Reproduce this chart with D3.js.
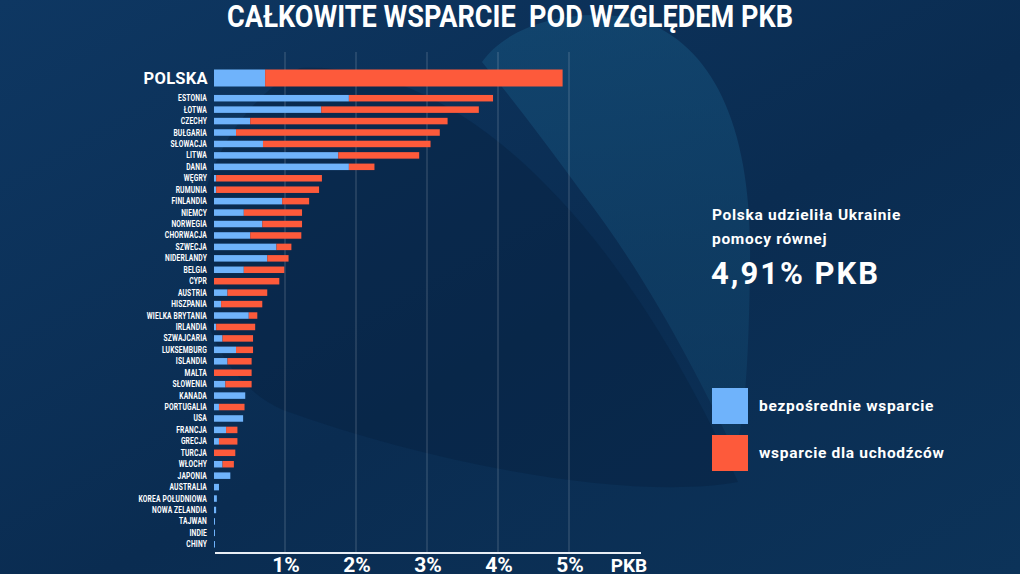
<!DOCTYPE html>
<html>
<head>
<meta charset="utf-8">
<script src="https://cdn.jsdelivr.net/npm/d3@7"></script>
<style>
  html, body { margin: 0; padding: 0; background: #0b2f55; }
  svg { display: block; }
  text { font-family: Roboto, "Noto Sans", sans-serif; font-weight: bold; fill: #ffffff; }
</style>
</head>
<body>
<div id="chart"></div>
<script>
// values, % of GDP
var countries = ["ESTONIA", "ŁOTWA", "CZECHY", "BUŁGARIA", "SŁOWACJA", "LITWA", "DANIA", "WĘGRY", "RUMUNIA",
  "FINLANDIA", "NIEMCY", "NORWEGIA", "CHORWACJA", "SZWECJA", "NIDERLANDY", "BELGIA", "CYPR", "AUSTRIA",
  "HISZPANIA", "WIELKA BRYTANIA", "IRLANDIA", "SZWAJCARIA", "LUKSEMBURG", "ISLANDIA", "MALTA", "SŁOWENIA",
  "KANADA", "PORTUGALIA", "USA", "FRANCJA", "GRECJA", "TURCJA", "WŁOCHY", "JAPONIA", "AUSTRALIA",
  "KOREA POŁUDNIOWA", "NOWA ZELANDIA", "TAJWAN", "INDIE", "CHINY"];

var direct = [1.90, 1.51, 0.51, 0.31, 0.69, 1.75, 1.90, 0.03, 0.03,
  0.96, 0.42, 0.68, 0.51, 0.88, 0.75, 0.42, 0.00, 0.19,
  0.10, 0.49, 0.03, 0.12, 0.31, 0.19, 0.00, 0.16,
  0.44, 0.07, 0.41, 0.17, 0.07, 0.00, 0.12, 0.23, 0.07,
  0.04, 0.03, 0.012, 0.012, 0.012];

var refugees = [2.03, 2.22, 2.78, 2.87, 2.36, 1.14, 0.36, 1.49, 1.45,
  0.38, 0.82, 0.56, 0.72, 0.21, 0.30, 0.57, 0.92, 0.56,
  0.58, 0.12, 0.55, 0.43, 0.24, 0.34, 0.53, 0.37,
  0.00, 0.36, 0.00, 0.16, 0.26, 0.30, 0.16, 0.00, 0.00,
  0.00, 0.00, 0.00, 0.00, 0.00];

var polandName = "POLSKA";
var polandDirect = 0.72;
var polandRefugees = 4.19;

var ticks = [1, 2, 3, 4, 5];
var tickLabels = ["1%", "2%", "3%", "4%", "5%"];
var unitLabel = "PKB";

var legendLabels = ["bezpośrednie wsparcie", "wsparcie dla uchodźców"];
var blue = "#6fb3fb", red = "#fd5a3b";

var W = 1020, H = 574;

var svg = d3.select("#chart").append("svg")
  .attr("width", W)
  .attr("height", H);

// background
var defs = svg.append("defs");
var bg = defs.append("linearGradient").attr("id", "bg")
  .attr("x1", 0).attr("y1", 0).attr("x2", 1).attr("y2", 1);
bg.append("stop").attr("offset", "0%").attr("stop-color", "#0e3762");
bg.append("stop").attr("offset", "55%").attr("stop-color", "#0a2c51");
bg.append("stop").attr("offset", "100%").attr("stop-color", "#0c3359");

var leafGrad = defs.append("linearGradient").attr("id", "leaf")
  .attr("x1", 0).attr("y1", 0).attr("x2", 0).attr("y2", 1);
leafGrad.append("stop").attr("offset", "0%").attr("stop-color", "#15507a");
leafGrad.append("stop").attr("offset", "100%").attr("stop-color", "#0f3d63");

svg.append("rect").attr("width", W).attr("height", H).attr("fill", "url(#bg)");

// dark wedge and light leaf shapes
svg.append("path")
  .attr("d", "M 300 68 C 460 60 620 220 738 482 C 640 500 450 470 283 410 C 170 360 160 150 300 68 Z")
  .attr("fill", "#072240").attr("opacity", 0.45);
svg.append("path")
  .attr("d", "M 482 62 C 510 22 580 6 640 20 C 715 45 752 130 750 260 C 749 360 745 420 735 452 C 700 380 650 280 580 190 C 540 135 505 90 482 62 Z")
  .attr("fill", "url(#leaf)").attr("opacity", 0.6);

// title
svg.append("text")
  .attr("x", 510)
  .attr("y", 27)
  .attr("text-anchor", "middle")
  .attr("textLength", 566)
  .attr("lengthAdjust", "spacingAndGlyphs")
  .style("white-space", "pre")
  .style("font-size", "31px")
  .text("CAŁKOWITE WSPARCIE  POD WZGLĘDEM PKB");

// scales
var x = d3.scaleLinear().domain([0, 6]).range([214, 640]);
var y = d3.scalePoint().domain(countries).range([98.2, 544.3]);
var barH = 6.5;

// grid lines
svg.append("g")
  .selectAll("line")
  .data(ticks)
  .enter()
  .append("line")
  .attr("x1", function (d) { return x(d); })
  .attr("x2", function (d) { return x(d); })
  .attr("y1", 52)
  .attr("y2", 553)
  .attr("stroke", "#ffffff")
  .attr("stroke-opacity", 0.22)
  .attr("stroke-width", 1);

// Poland bar
var polY = 78;
svg.append("rect")
  .attr("x", x(0)).attr("y", polY - 8.5)
  .attr("width", x(polandDirect) - x(0)).attr("height", 17)
  .attr("fill", blue);
svg.append("rect")
  .attr("x", x(polandDirect)).attr("y", polY - 8.5)
  .attr("width", x(polandDirect + polandRefugees) - x(polandDirect)).attr("height", 17)
  .attr("fill", red);
svg.append("text")
  .attr("x", 208).attr("y", polY + 6)
  .attr("text-anchor", "end")
  .style("font-size", "16.5px")
  .style("letter-spacing", "0.3px")
  .text(polandName);

// country bars
var rows = countries.map(function (c, i) {
  return { name: c, direct: direct[i], refugees: refugees[i] };
});

var row = svg.append("g").selectAll("g")
  .data(rows)
  .enter()
  .append("g");

row.append("rect")
  .attr("x", x(0))
  .attr("y", function (d) { return y(d.name) - barH / 2; })
  .attr("width", function (d) { return d.direct > 0 ? Math.max(1, x(d.direct) - x(0)) : 0; })
  .attr("height", barH)
  .attr("fill", blue);

row.append("rect")
  .attr("x", function (d) { return x(d.direct); })
  .attr("y", function (d) { return y(d.name) - barH / 2; })
  .attr("width", function (d) { return x(d.direct + d.refugees) - x(d.direct); })
  .attr("height", barH)
  .attr("fill", red);

// labels squeezed horizontally like the condensed original font
row.append("text")
  .attr("transform", function (d) { return "translate(207," + (y(d.name) + 3) + ") scale(0.78,1)"; })
  .attr("text-anchor", "end")
  .style("font-size", "8.6px")
  .style("letter-spacing", "0.2px")
  .text(function (d) { return d.name; });

// x axis
svg.append("line")
  .attr("x1", x(0) + 1).attr("x2", x(6) + 1)
  .attr("y1", 553).attr("y2", 553)
  .attr("stroke", "#e8eef5").attr("stroke-width", 2);

svg.append("g")
  .selectAll("text")
  .data(ticks)
  .enter()
  .append("text")
  .attr("x", function (d) { return x(d) + 1; })
  .attr("y", 572)
  .attr("text-anchor", "middle")
  .style("font-size", "21px")
  .text(function (d, i) { return tickLabels[i]; });

svg.append("text")
  .attr("x", 629).attr("y", 572)
  .attr("text-anchor", "middle")
  .style("font-size", "19px")
  .text(unitLabel);

// annotation
svg.append("text").attr("x", 712).attr("y", 220)
  .style("font-size", "15.5px").style("letter-spacing", "0.7px").text("Polska udzieliła Ukrainie");
svg.append("text").attr("x", 712).attr("y", 244)
  .style("font-size", "15.5px").style("letter-spacing", "0.7px").text("pomocy równej");
svg.append("text").attr("x", 711).attr("y", 284)
  .style("font-size", "31px").style("letter-spacing", "2px").text("4,91% PKB");

// legend
var legend = svg.append("g").selectAll("g")
  .data(legendLabels)
  .enter()
  .append("g")
  .attr("transform", function (d, i) { return "translate(712," + (388 + i * 47) + ")"; });

legend.append("rect")
  .attr("width", 36).attr("height", 36)
  .attr("fill", function (d, i) { return i === 0 ? blue : red; });

legend.append("text")
  .attr("x", 47).attr("y", 23)
  .style("font-size", "15.5px")
  .style("letter-spacing", "0.7px")
  .text(function (d) { return d; });
</script>
</body>
</html>
